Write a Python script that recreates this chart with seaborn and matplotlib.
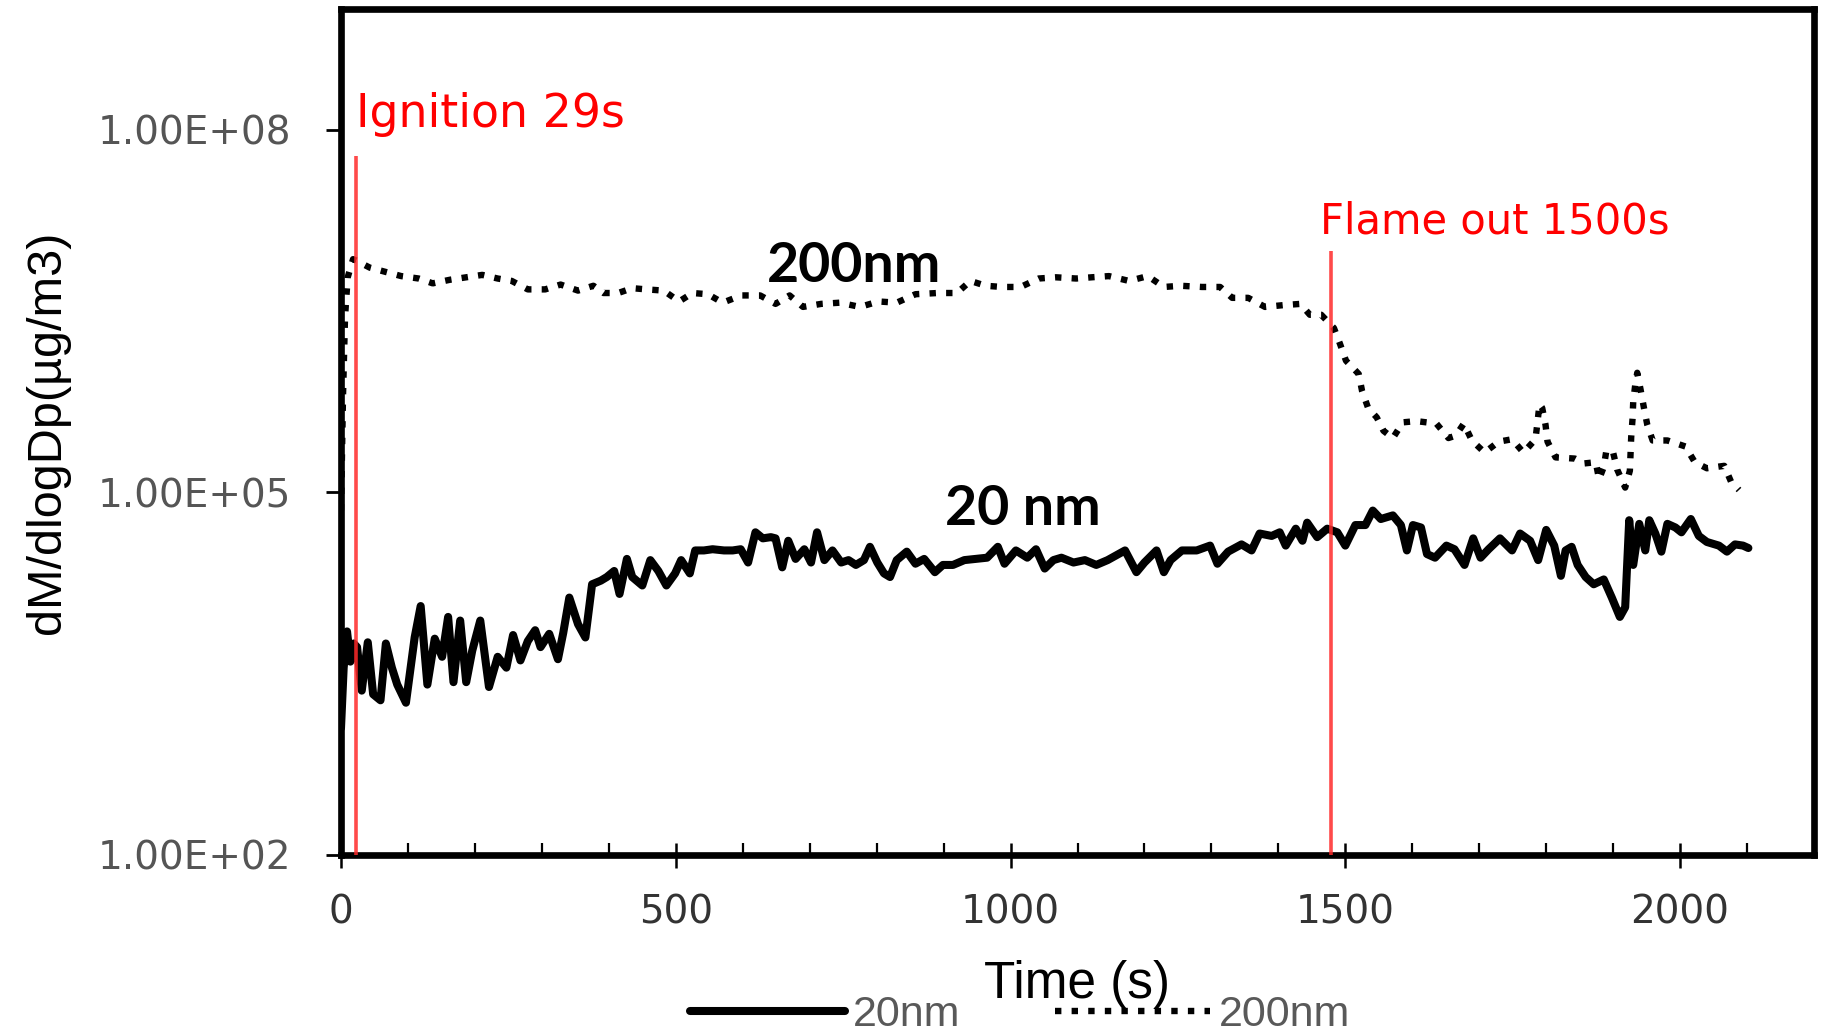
import numpy as np
import pandas as pd
import matplotlib
matplotlib.use("Agg")
import matplotlib.pyplot as plt
import seaborn as sns
from matplotlib.ticker import MultipleLocator, NullLocator

# ---------------- data ----------------
# 20 nm series: time (s) and log10 of dM/dlogDp
time_20nm = [0, 4, 9, 14, 19, 24, 31, 40, 48, 59, 67, 76, 84, 97, 110, 119, 129, 140, 151, 160,
             168, 178, 187, 196, 208, 221, 234, 247, 257, 268, 279, 290, 298, 311, 324, 332, 341,
             354, 365, 375, 388, 397, 408, 416, 427, 435, 450, 462, 474, 486, 499, 508, 521, 529,
             542, 555, 572, 585, 597, 608, 619, 630, 642, 649, 659, 668, 679, 692, 702, 711, 722,
             734, 747, 758, 769, 781, 790, 801, 811, 820, 830, 845, 858, 871, 887, 899, 914, 931,
             948, 965, 981, 991, 1008, 1025, 1038, 1051, 1064, 1076, 1094, 1111, 1128, 1145, 1171,
             1188, 1200, 1218, 1229, 1239, 1256, 1278, 1298, 1309, 1325, 1345, 1360, 1372, 1390,
             1402, 1411, 1426, 1436, 1443, 1458, 1473, 1488, 1500, 1515, 1530, 1541, 1553, 1571,
             1583, 1592, 1601, 1613, 1622, 1634, 1651, 1663, 1678, 1691, 1702, 1714, 1731, 1749,
             1761, 1776, 1788, 1800, 1812, 1822, 1829, 1838, 1847, 1859, 1871, 1886, 1898, 1910,
             1918, 1924, 1930, 1939, 1948, 1954, 1963, 1972, 1981, 1993, 2002, 2016, 2028, 2040,
             2058, 2070, 2082, 2094, 2102]
log10_dm_20nm = [3.05, 3.55, 3.85, 3.60, 3.75, 3.72, 3.36, 3.76, 3.33, 3.28, 3.75, 3.55, 3.41, 3.26,
                 3.80, 4.06, 3.41, 3.79, 3.64, 3.97, 3.43, 3.94, 3.43, 3.69, 3.94, 3.39, 3.64, 3.55,
                 3.82, 3.61, 3.77, 3.86, 3.72, 3.83, 3.62, 3.84, 4.13, 3.91, 3.80, 4.24, 4.27, 4.30,
                 4.35, 4.16, 4.45, 4.30, 4.23, 4.44, 4.35, 4.23, 4.33, 4.44, 4.33, 4.52, 4.52, 4.53,
                 4.52, 4.52, 4.53, 4.42, 4.67, 4.62, 4.63, 4.62, 4.38, 4.60, 4.45, 4.53, 4.42, 4.67,
                 4.44, 4.52, 4.42, 4.44, 4.40, 4.44, 4.55, 4.42, 4.33, 4.30, 4.44, 4.51, 4.41, 4.45,
                 4.34, 4.40, 4.40, 4.44, 4.45, 4.46, 4.55, 4.41, 4.52, 4.46, 4.53, 4.37, 4.44, 4.46,
                 4.42, 4.44, 4.40, 4.44, 4.52, 4.34, 4.42, 4.52, 4.34, 4.44, 4.52, 4.52, 4.56, 4.41,
                 4.51, 4.57, 4.52, 4.66, 4.64, 4.67, 4.56, 4.70, 4.60, 4.75, 4.63, 4.70, 4.67, 4.56,
                 4.73, 4.73, 4.85, 4.78, 4.81, 4.73, 4.52, 4.73, 4.71, 4.49, 4.46, 4.56, 4.53, 4.40,
                 4.62, 4.46, 4.53, 4.62, 4.52, 4.66, 4.60, 4.44, 4.69, 4.56, 4.31, 4.52, 4.55, 4.40,
                 4.30, 4.24, 4.28, 4.13, 3.97, 4.05, 4.77, 4.40, 4.74, 4.52, 4.77, 4.66, 4.51, 4.74,
                 4.71, 4.67, 4.78, 4.64, 4.59, 4.56, 4.51, 4.57, 4.56, 4.54]

# 200 nm series
time_200nm = [0, 3, 6, 10, 18, 22, 43, 63, 90, 116, 137, 163, 187, 211, 234, 255, 279, 305, 328,
              354, 377, 392, 414, 435, 456, 482, 505, 525, 548, 570, 598, 626, 649, 670, 690, 717,
              745, 775, 803, 830, 858, 891, 920, 940, 963, 987, 1015, 1042, 1068, 1098, 1121, 1147,
              1177, 1205, 1229, 1254, 1286, 1313, 1331, 1355, 1380, 1408, 1433, 1447, 1464, 1483,
              1492, 1501, 1520, 1525, 1534, 1547, 1557, 1571, 1586, 1606, 1636, 1654, 1665, 1677,
              1689, 1708, 1729, 1749, 1766, 1784, 1787, 1790, 1794, 1799, 1802, 1814, 1843, 1857,
              1874, 1879, 1886, 1890, 1900, 1906, 1918, 1925, 1926, 1927, 1929, 1930, 1933, 1936,
              1941, 1946, 1951, 1959, 1981, 2008, 2022, 2040, 2066, 2076, 2088]
log10_dm_200nm = [4.85, 5.80, 6.45, 6.78, 6.93, 6.92, 6.86, 6.83, 6.79, 6.77, 6.73, 6.76, 6.78, 6.80,
                  6.77, 6.75, 6.68, 6.68, 6.72, 6.67, 6.71, 6.65, 6.65, 6.69, 6.68, 6.67, 6.58, 6.65,
                  6.64, 6.57, 6.63, 6.63, 6.56, 6.63, 6.535, 6.56, 6.57, 6.535, 6.58, 6.57, 6.64,
                  6.65, 6.65, 6.75, 6.71, 6.70, 6.70, 6.77, 6.78, 6.77, 6.78, 6.79, 6.75, 6.79, 6.70,
                  6.71, 6.70, 6.70, 6.61, 6.61, 6.535, 6.55, 6.56, 6.47, 6.47, 6.36, 6.23, 6.09, 5.98,
                  5.84, 5.70, 5.62, 5.51, 5.45, 5.58, 5.59, 5.57, 5.45, 5.47, 5.57, 5.43, 5.33, 5.42,
                  5.44, 5.33, 5.44, 5.58, 5.73, 5.70, 5.56, 5.42, 5.29, 5.28, 5.24, 5.25, 5.11, 5.21,
                  5.35, 5.33, 5.19, 5.04, 5.18, 5.32, 5.46, 5.61, 5.75, 5.89, 5.99, 5.85, 5.70, 5.56,
                  5.43, 5.43, 5.38, 5.25, 5.20, 5.22, 5.09, 5.02]

series_labels = ["20nm", "200nm"]
x_tick_values = [0, 500, 1000, 1500, 2000]
y_tick_values = [1e2, 1e5, 1e8]
y_tick_labels = ["1.00E+02", "1.00E+05", "1.00E+08"]

event_times = [23, 1478]
event_tops = [10 ** 7.78, 1e7]
event_labels = ["Ignition 29s", "Flame out 1500s"]

# ---------------- figure ----------------
sns.set_style("white")
plt.rcParams["font.family"] = ["DejaVu Sans"]

fig = plt.figure(figsize=(18.24, 10.36), dpi=100)
L, R, B, T = 341 / 1824, 1814 / 1824, 1 - 855 / 1036, 1 - 9 / 1036
ax = fig.add_axes([L, B, R - L, T - B])

v20 = 10 ** np.array(log10_dm_20nm)
v200 = 10 ** np.array(log10_dm_200nm)

sns.lineplot(x=time_20nm, y=v20, ax=ax, color="black", lw=5.8, label=series_labels[0],
             estimator=None, sort=False, solid_joinstyle="round", zorder=2)
sns.lineplot(x=time_200nm, y=v200, ax=ax, color="black", lw=4.6, label=series_labels[1],
             estimator=None, sort=False, linestyle=(0, (1, 1.6)), zorder=2)

# event lines
for tx, top in zip(event_times, event_tops):
    ax.vlines(tx, 1e2, top, color="#ff2a2a", lw=2.6, alpha=0.85, zorder=3)

ax.text(22, 10 ** 8.024, event_labels[0], color="#ff0000", fontsize=33,
        ha="left", va="baseline")
ax.text(1462, 10 ** 7.146, event_labels[1], color="#ff0000", fontsize=30,
        ha="left", va="baseline")

ax.text(767, 10 ** 6.742, "200nm", fontsize=40, fontweight="bold", family="Lato",
        ha="center", va="baseline", color="black")
ax.text(1019, 10 ** 4.727, "20 nm", fontsize=40, fontweight="bold", family="Lato",
        ha="center", va="baseline", color="black")

# axes scales
ax.set_yscale("log")
ax.set_ylim(1e2, 1e9)
ax.set_xlim(0, 2200)
ax.set_yticks(y_tick_values, y_tick_labels)
ax.yaxis.set_minor_locator(NullLocator())
ax.set_xticks(x_tick_values, [str(v) for v in x_tick_values])
ax.xaxis.set_minor_locator(MultipleLocator(100))

for sp in ax.spines.values():
    sp.set_visible(True)
    sp.set_color("black")
    sp.set_linewidth(4.8)

ax.tick_params(axis="x", which="major", direction="inout", length=18, width=1.8,
               pad=19, labelsize=28, labelcolor="#333333", color="black",
               bottom=True, top=False)
ax.tick_params(axis="x", which="minor", direction="in", length=8.5, width=1.6,
               color="black", bottom=True, top=False)
ax.tick_params(axis="y", which="major", direction="out", length=11, width=2,
               pad=25, labelsize=28, labelcolor="#555555", color="black",
               left=True, right=False)
ax.grid(False)

ax.set_xlabel("Time (s)", fontsize=37, family="Liberation Sans", color="black")
ax.xaxis.set_label_coords(0.5, -0.124)
ax.set_ylabel("dM/dlogDp(µg/m3)", fontsize=35, family="Liberation Sans", color="black")
ax.yaxis.set_label_coords(-0.184, 0.5)

# legend at the bottom
handles, labels = ax.get_legend_handles_labels()
ax.get_legend().remove()
leg = fig.legend(handles, labels, loc="center", bbox_to_anchor=(1020 / 1824, 1 - 1015 / 1036),
                 ncol=2, frameon=False, prop={"family": "Liberation Sans", "size": 31},
                 handlelength=3.6, handletextpad=0.2, columnspacing=2.2,
                 borderaxespad=0, borderpad=0)
for txt in leg.get_texts():
    txt.set_color("#595959")

fig.savefig("out.png", dpi=100)
